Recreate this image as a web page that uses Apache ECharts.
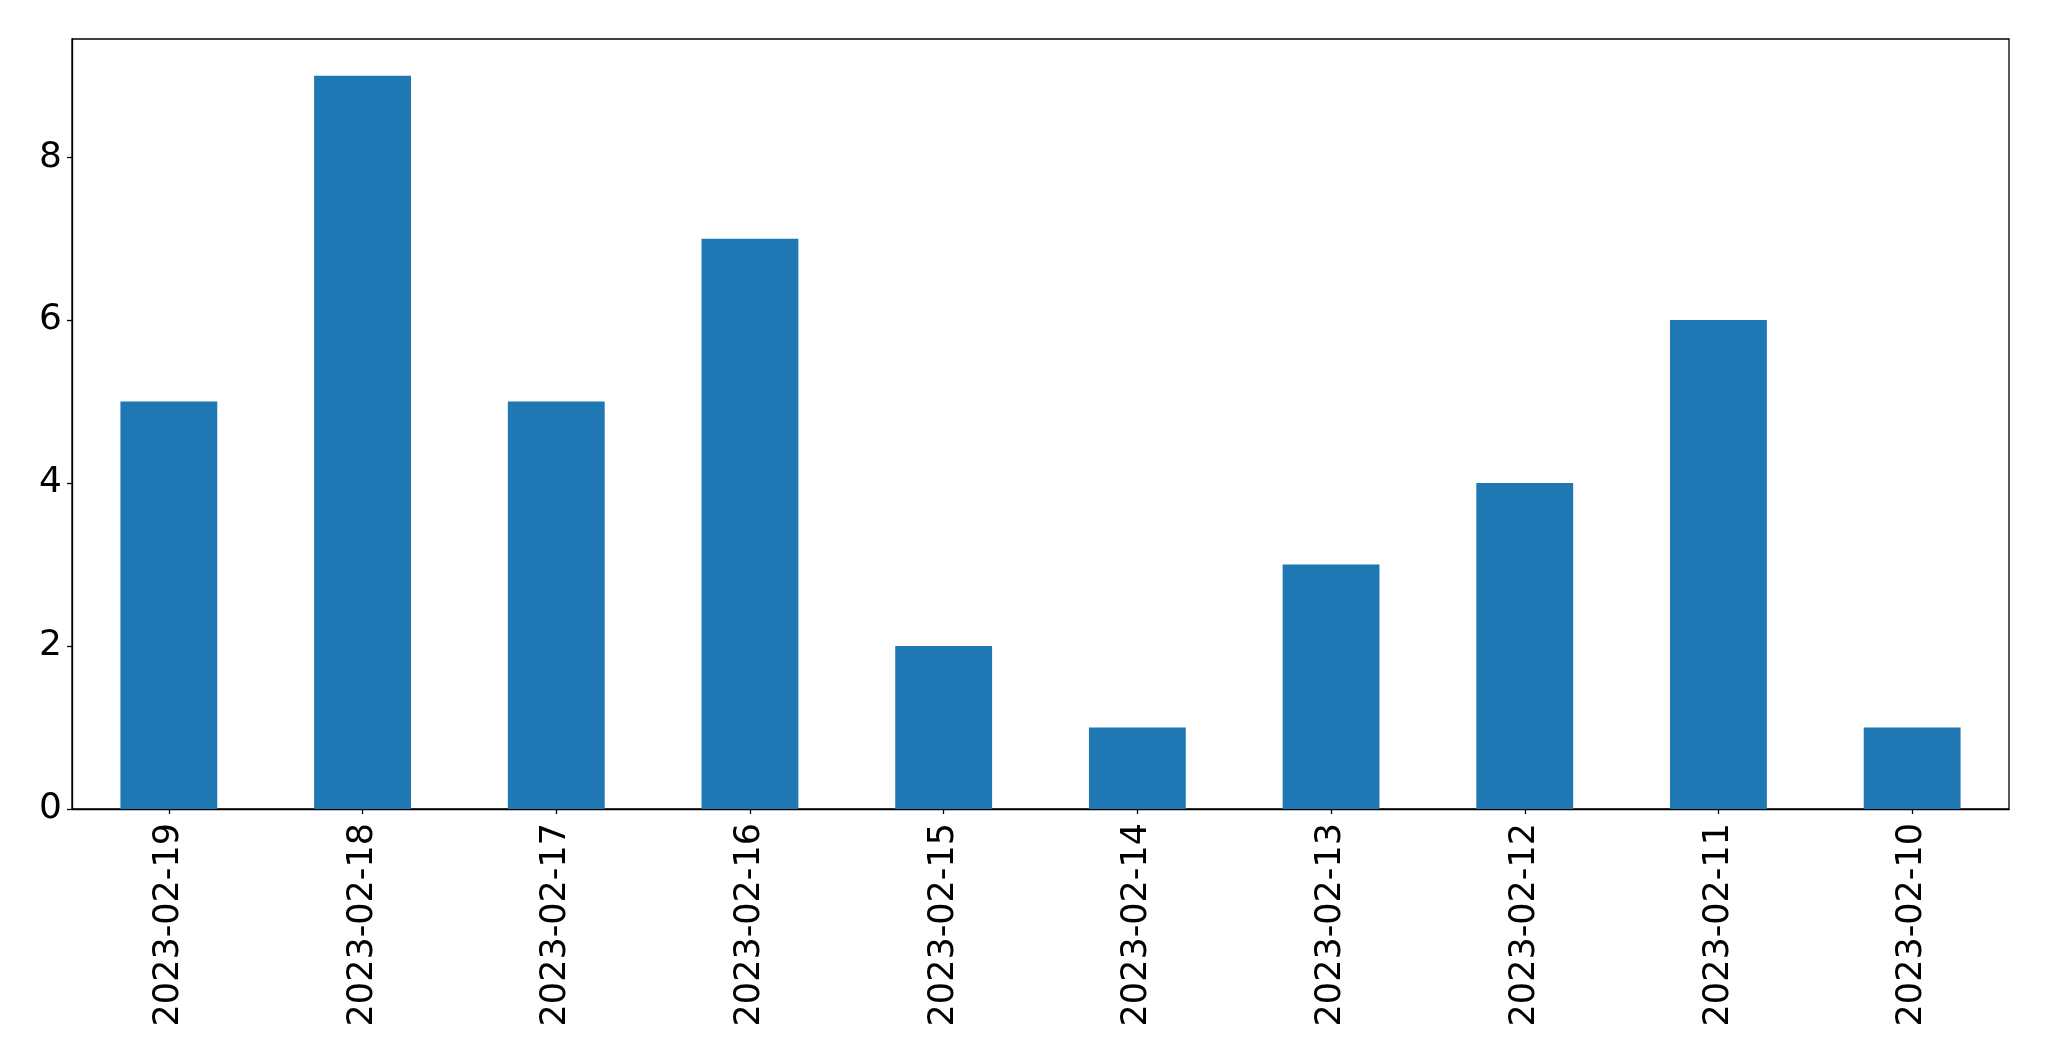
<!DOCTYPE html>
<html><head><meta charset="utf-8">
<script src="https://cdn.jsdelivr.net/npm/echarts@6/dist/echarts.min.js"></script>
<style>html,body{margin:0;padding:0;background:#fff}#c{width:2049px;height:1061px}</style>
</head><body><div id="c"></div>
<script>
const categories = ["2023-02-19","2023-02-18","2023-02-17","2023-02-16","2023-02-15","2023-02-14","2023-02-13","2023-02-12","2023-02-11","2023-02-10"];
const values = [5, 9, 5, 7, 2, 1, 3, 4, 6, 1];
const yTicks = [0, 2, 4, 6, 8];

const chart = echarts.init(document.getElementById('c'), null, {renderer: 'canvas'});
const font = 'DejaVu Sans';
chart.setOption({
  animation: false,
  grid: {left: 72, top: 39, width: 1937, height: 770, show: true, borderColor: '#000', borderWidth: 1.3, backgroundColor: 'transparent'},
  xAxis: {
    type: 'category', data: categories,
    axisLine: {show: true, lineStyle: {color: '#000', width: 1.3}},
    axisTick: {show: true, alignWithLabel: true, length: 5, lineStyle: {color: '#000', width: 1.3}},
    axisLabel: {rotate: 90, color: '#000', fontFamily: font, fontSize: 35, margin: 14, interval: 0},
    splitLine: {show: false}
  },
  yAxis: {
    type: 'value', min: 0, max: 9.45, interval: 2,
    axisLine: {show: true, lineStyle: {color: '#000', width: 1.3}},
    axisTick: {show: true, length: 5, customValues: yTicks, lineStyle: {color: '#000', width: 1.3}},
    axisLabel: {color: '#000', fontFamily: font, fontSize: 36, margin: 10, customValues: yTicks, padding: [10, 0, 0, 0]},
    splitLine: {show: false}
  },
  series: [{type: 'bar', data: values, barWidth: '50%', itemStyle: {color: '#1f77b4'}}]
});
</script></body></html>
